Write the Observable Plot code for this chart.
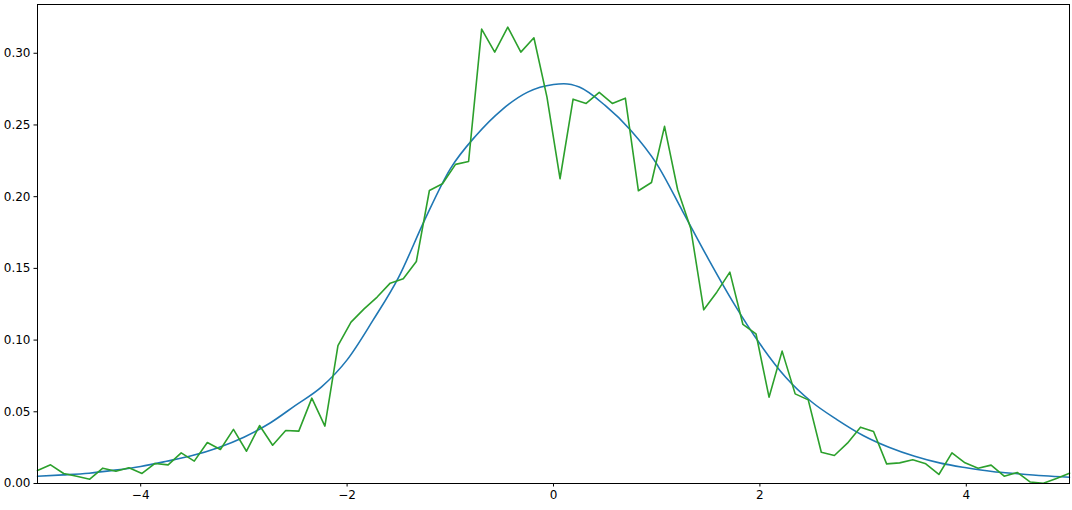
<!DOCTYPE html>
<html>
<head>
<meta charset="utf-8">
<script src="https://cdn.jsdelivr.net/npm/d3@7"></script>
<script src="https://cdn.jsdelivr.net/npm/@observablehq/plot@0.6"></script>
<style>
  html, body { margin: 0; padding: 0; background: #fff; }
  #chart svg { display: block; overflow: visible; }
</style>
</head>
<body>
<div id="chart"></div>
<script>
// Noisy series: 80 evenly spaced samples over [-5, 5]
const noisyCount = 80;
const noisyValues = [
  0.009, 0.013, 0.007, 0.005, 0.003, 0.0107, 0.0086, 0.011, 0.007, 0.014,
  0.013, 0.0214, 0.0156, 0.0286, 0.0237, 0.0377, 0.0225, 0.0404, 0.0267, 0.037,
  0.0365, 0.0595, 0.040, 0.0962, 0.1125, 0.1218, 0.130, 0.1397, 0.1427, 0.1548,
  0.2043, 0.209, 0.2225, 0.2245, 0.3168, 0.3008, 0.3182, 0.3008, 0.3108, 0.2694,
  0.2125, 0.268, 0.265, 0.2727, 0.265, 0.2687, 0.2041, 0.2099, 0.249, 0.205,
  0.178, 0.1211, 0.1334, 0.1474, 0.1109, 0.1044, 0.0602, 0.0923, 0.0625, 0.0583,
  0.0218, 0.0195, 0.0281, 0.0393, 0.0363, 0.0137, 0.0144, 0.0165, 0.0137, 0.0063,
  0.0214, 0.0144, 0.0107, 0.0128, 0.0051, 0.0077, 0.001, 0.0002, 0.0035, 0.0072
];
// Smooth curve, read at regular positions
const smoothX = [-5, -4.75, -4.5, -4.25, -4, -3.75, -3.5, -3.25, -3, -2.75, -2.5, -2.25, -2, -1.75, -1.5, -1.25, -1, -0.75, -0.5, -0.25, 0, 0.1, 0.25, 0.5, 0.75, 1, 1.25, 1.5, 1.75, 2, 2.25, 2.5, 2.75, 3, 3.25, 3.5, 3.75, 4, 4.25, 4.5, 4.75, 5];
const smoothY = [0.0051, 0.006, 0.0072, 0.0093, 0.0119, 0.0155, 0.0195, 0.025, 0.0323, 0.042, 0.0545, 0.0672, 0.0862, 0.1137, 0.1439, 0.1835, 0.2194, 0.2427, 0.2606, 0.2729, 0.2782, 0.2787, 0.2764, 0.2636, 0.2462, 0.2229, 0.19, 0.1567, 0.1253, 0.0974, 0.0741, 0.057, 0.0444, 0.0335, 0.0253, 0.019, 0.0142, 0.011, 0.0084, 0.0068, 0.0054, 0.0044];
const xTicks = [-4, -2, 0, 2, 4];
const yTicks = [0, 0.05, 0.10, 0.15, 0.20, 0.25, 0.30];

const noisy = noisyValues.map((v, i) => ({x: -5 + i * 10 / (noisyCount - 1), y: v}));
const smooth = smoothX.map((x, i) => ({x, y: smoothY[i]}));

const chart = Plot.plot({
  width: 1072,
  height: 510,
  marginLeft: 37,
  marginRight: 3,
  marginTop: 4,
  marginBottom: 27,
  style: {fontFamily: "DejaVu Sans", fontSize: "12px", color: "#000", background: "#fff"},
  x: {domain: [-5, 5]},
  y: {domain: [0, 0.334]},
  marks: [
    Plot.axisX({ticks: xTicks, tickSize: 3.5, tickPadding: 3.5, tickFormat: d3.format("d"), label: null, fontSize: 12}),
    Plot.axisY({ticks: yTicks, tickSize: 3.5, tickPadding: 3.5, tickFormat: d3.format(".2f"), label: null, fontSize: 12}),
    Plot.line(smooth, {x: "x", y: "y", stroke: "#1f77b4", strokeWidth: 1.6, curve: "monotone-x"}),
    Plot.line(noisy, {x: "x", y: "y", stroke: "#2ca02c", strokeWidth: 1.6}),
    Plot.frame({stroke: "#000", strokeWidth: 1})
  ]
});
document.getElementById("chart").appendChild(chart);
</script>
</body>
</html>
